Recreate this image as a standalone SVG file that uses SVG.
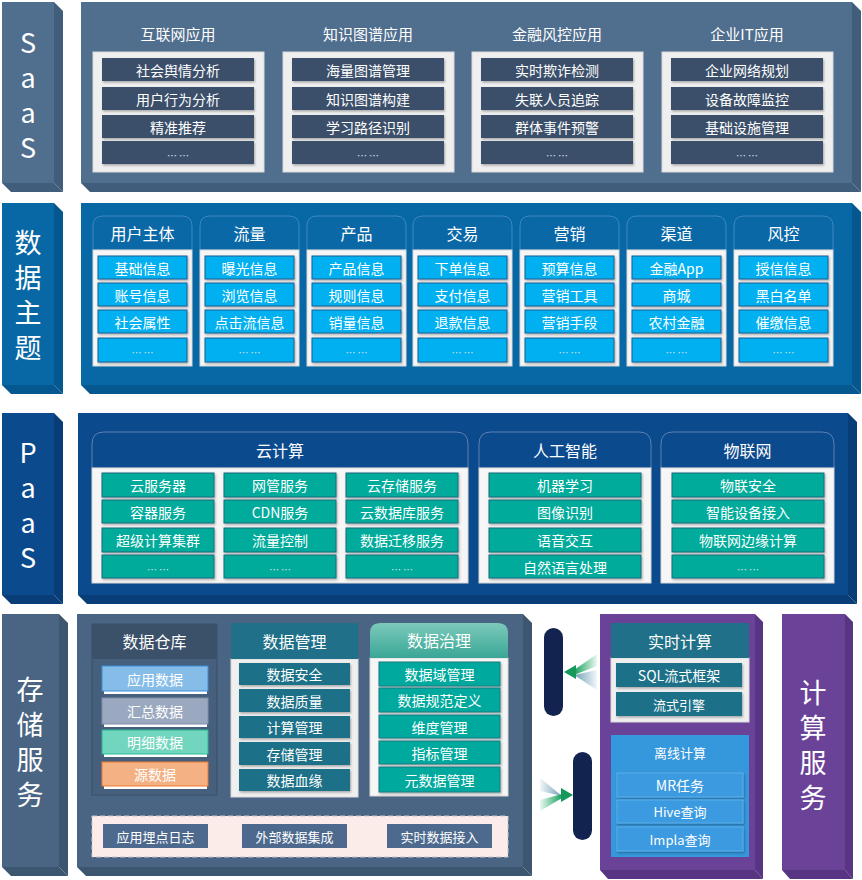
<svg xmlns="http://www.w3.org/2000/svg" width="862" height="880" viewBox="0 0 862 880">
<style>
text{font-family:"Noto Sans CJK SC","Noto Sans",sans-serif;fill:#fff;text-anchor:middle;dominant-baseline:central}
.big{font-size:27px}
.vt{font-size:27px;writing-mode:vertical-rl;text-orientation:upright;letter-spacing:8px}
.h{font-size:15px}
.h16{font-size:16px}
.t{font-size:14px}
.s{font-size:13px}
.e{font-size:10px;fill:#dde3ea}
.saasF{fill:#506e8e}.saasS{fill:#415d7c}
.dataF{fill:#0868a6}.dataS{fill:#055790}
.paasF{fill:#0c4a8e}.paasS{fill:#083d78}
.stoF{fill:#4a6583}.stoS{fill:#3d5670}
.cmpF{fill:#6a4398}.cmpS{fill:#583583}
.gbox{fill:#efefef;stroke:#dadada;stroke-width:1}
.wbox{fill:#f6f6f6;stroke:#d6d6d6;stroke-width:1}
.saasI{fill:#3b506b}
.dI{fill:#00b0f0;stroke:#1b5e94;stroke-width:1}
.pI{fill:#00ab9b;stroke:#1d6b7b;stroke-width:1}
.tI{fill:#1f7088}
.gI{fill:#00a99d;stroke:#1d7a80;stroke-width:1}
.bI{fill:#4d6a8e}
.oI{fill:#3a9ae0;stroke:#5fb0ea;stroke-width:1}
.dh{fill:#0a68a7;stroke:#3e88bf;stroke-width:1}
.ph{fill:#0c4a8e;stroke:#5d80b0;stroke-width:1}
.pill{fill:#13234f}
</style>
<defs>
<filter id="sh" x="-10%" y="-20%" width="120%" height="150%">
<feDropShadow dx="1" dy="1.5" stdDeviation="1" flood-color="#000" flood-opacity="0.3"/>
</filter>
<linearGradient id="gov" x1="0" y1="0" x2="0" y2="1">
<stop offset="0" stop-color="#7ccabb"/><stop offset="1" stop-color="#3aa696"/>
</linearGradient>
<linearGradient id="gLeft" x1="0" y1="0" x2="1" y2="0">
<stop offset="0" stop-color="#14a05c"/><stop offset="1" stop-color="#14a05c" stop-opacity="0.08"/>
</linearGradient>
<linearGradient id="bLeft" x1="0" y1="0" x2="1" y2="0">
<stop offset="0" stop-color="#6f9fb6"/><stop offset="1" stop-color="#6f9fb6" stop-opacity="0.08"/>
</linearGradient>
<linearGradient id="gRight" x1="1" y1="0" x2="0" y2="0">
<stop offset="0" stop-color="#14a05c"/><stop offset="1" stop-color="#14a05c" stop-opacity="0.08"/>
</linearGradient>
<linearGradient id="bRight" x1="1" y1="0" x2="0" y2="0">
<stop offset="0" stop-color="#6f9fb6"/><stop offset="1" stop-color="#6f9fb6" stop-opacity="0.08"/>
</linearGradient>
</defs>

<!-- ================= SaaS ================= -->
<g id="saas-label">
<polygon class="saasS" points="54,2 63,11 63,192 54,183"/>
<polygon class="saasS" points="2,183 54,183 63,192 11,192"/>
<rect class="saasF" x="2" y="2" width="52" height="181"/>
<text class="vt" x="28" y="99">SaaS</text>
</g>
<g id="saas-panel">
<polygon class="saasS" points="852,2 861,11 861,192 852,183"/>
<polygon class="saasS" points="81,183 852,183 861,192 90,192"/>
<rect class="saasF" x="81" y="2" width="771" height="181"/>
</g>
<g id="saas-internet">
<text class="h" x="178" y="33">互联网应用</text>
<rect class="gbox" x="93" y="52" width="171" height="120"/>
<g filter="url(#sh)">
<rect class="saasI" x="102" y="58" width="152" height="23"/>
<rect class="saasI" x="102" y="87" width="152" height="23"/>
<rect class="saasI" x="102" y="115" width="152" height="23"/>
<rect class="saasI" x="102" y="141" width="152" height="23"/>
</g>
<text class="t" x="178" y="69.5">社会舆情分析</text>
<text class="t" x="178" y="98.5">用户行为分析</text>
<text class="t" x="178" y="126.5">精准推荐</text>
<text class="e" x="178" y="155">… …</text>
</g>
<g id="saas-kg">
<text class="h" x="368" y="33">知识图谱应用</text>
<rect class="gbox" x="283" y="52" width="171" height="120"/>
<g filter="url(#sh)">
<rect class="saasI" x="292" y="58" width="152" height="23"/>
<rect class="saasI" x="292" y="87" width="152" height="23"/>
<rect class="saasI" x="292" y="115" width="152" height="23"/>
<rect class="saasI" x="292" y="141" width="152" height="23"/>
</g>
<text class="t" x="368" y="69.5">海量图谱管理</text>
<text class="t" x="368" y="98.5">知识图谱构建</text>
<text class="t" x="368" y="126.5">学习路径识别</text>
<text class="e" x="368" y="155">… …</text>
</g>
<g id="saas-fin">
<text class="h" x="557" y="33">金融风控应用</text>
<rect class="gbox" x="472" y="52" width="171" height="120"/>
<g filter="url(#sh)">
<rect class="saasI" x="481" y="58" width="152" height="23"/>
<rect class="saasI" x="481" y="87" width="152" height="23"/>
<rect class="saasI" x="481" y="115" width="152" height="23"/>
<rect class="saasI" x="481" y="141" width="152" height="23"/>
</g>
<text class="t" x="557" y="69.5">实时欺诈检测</text>
<text class="t" x="557" y="98.5">失联人员追踪</text>
<text class="t" x="557" y="126.5">群体事件预警</text>
<text class="e" x="557" y="155">… …</text>
</g>
<g id="saas-it">
<text class="h" x="747" y="33">企业IT应用</text>
<rect class="gbox" x="662" y="52" width="171" height="120"/>
<g filter="url(#sh)">
<rect class="saasI" x="671" y="58" width="152" height="23"/>
<rect class="saasI" x="671" y="87" width="152" height="23"/>
<rect class="saasI" x="671" y="115" width="152" height="23"/>
<rect class="saasI" x="671" y="141" width="152" height="23"/>
</g>
<text class="t" x="747" y="69.5">企业网络规划</text>
<text class="t" x="747" y="98.5">设备故障监控</text>
<text class="t" x="747" y="126.5">基础设施管理</text>
<text class="e" x="747" y="155">… …</text>
</g>

<!-- ================= 数据主题 ================= -->
<g id="data-label">
<polygon class="dataS" points="54,203 63,212 63,394 54,385"/>
<polygon class="dataS" points="2,385 54,385 63,394 11,394"/>
<rect class="dataF" x="2" y="203" width="52" height="182"/>
<text class="vt" x="28" y="299.5">数据主题</text>
</g>
<g id="data-panel">
<polygon class="dataS" points="852,203 861,212 861,394 852,385"/>
<polygon class="dataS" points="81,385 852,385 861,394 90,394"/>
<rect class="dataF" x="81" y="203" width="771" height="182"/>
</g>
<g id="data-user">
<path class="dh" d="M93,250 V226 Q93,216 103,216 H182 Q192,216 192,226 V250 Z"/>
<rect class="wbox" x="93" y="250" width="99" height="116"/>
<text class="h16" x="142.5" y="233">用户主体</text>
<g filter="url(#sh)">
<rect class="dI" x="98" y="256" width="89" height="23"/><rect class="dI" x="98" y="283" width="89" height="23"/>
<rect class="dI" x="98" y="310" width="89" height="23"/><rect class="dI" x="98" y="338" width="89" height="24"/>
</g>
<text class="t" x="142.5" y="267.5">基础信息</text><text class="t" x="142.5" y="294.5">账号信息</text>
<text class="t" x="142.5" y="321.5">社会属性</text><text class="e" x="142.5" y="352">… …</text>
</g>
<g id="data-traffic">
<path class="dh" d="M200,250 V226 Q200,216 210,216 H289 Q299,216 299,226 V250 Z"/>
<rect class="wbox" x="200" y="250" width="99" height="116"/>
<text class="h16" x="249.5" y="233">流量</text>
<g filter="url(#sh)">
<rect class="dI" x="205" y="256" width="89" height="23"/><rect class="dI" x="205" y="283" width="89" height="23"/>
<rect class="dI" x="205" y="310" width="89" height="23"/><rect class="dI" x="205" y="338" width="89" height="24"/>
</g>
<text class="t" x="249.5" y="267.5">曝光信息</text><text class="t" x="249.5" y="294.5">浏览信息</text>
<text class="t" x="249.5" y="321.5">点击流信息</text><text class="e" x="249.5" y="352">… …</text>
</g>
<g id="data-product">
<path class="dh" d="M307,250 V226 Q307,216 317,216 H396 Q406,216 406,226 V250 Z"/>
<rect class="wbox" x="307" y="250" width="99" height="116"/>
<text class="h16" x="356.5" y="233">产品</text>
<g filter="url(#sh)">
<rect class="dI" x="312" y="256" width="89" height="23"/><rect class="dI" x="312" y="283" width="89" height="23"/>
<rect class="dI" x="312" y="310" width="89" height="23"/><rect class="dI" x="312" y="338" width="89" height="24"/>
</g>
<text class="t" x="356.5" y="267.5">产品信息</text><text class="t" x="356.5" y="294.5">规则信息</text>
<text class="t" x="356.5" y="321.5">销量信息</text><text class="e" x="356.5" y="352">… …</text>
</g>
<g id="data-trade">
<path class="dh" d="M413,250 V226 Q413,216 423,216 H502 Q512,216 512,226 V250 Z"/>
<rect class="wbox" x="413" y="250" width="99" height="116"/>
<text class="h16" x="462.5" y="233">交易</text>
<g filter="url(#sh)">
<rect class="dI" x="418" y="256" width="89" height="23"/><rect class="dI" x="418" y="283" width="89" height="23"/>
<rect class="dI" x="418" y="310" width="89" height="23"/><rect class="dI" x="418" y="338" width="89" height="24"/>
</g>
<text class="t" x="462.5" y="267.5">下单信息</text><text class="t" x="462.5" y="294.5">支付信息</text>
<text class="t" x="462.5" y="321.5">退款信息</text><text class="e" x="462.5" y="352">… …</text>
</g>
<g id="data-marketing">
<path class="dh" d="M520,250 V226 Q520,216 530,216 H609 Q619,216 619,226 V250 Z"/>
<rect class="wbox" x="520" y="250" width="99" height="116"/>
<text class="h16" x="569.5" y="233">营销</text>
<g filter="url(#sh)">
<rect class="dI" x="525" y="256" width="89" height="23"/><rect class="dI" x="525" y="283" width="89" height="23"/>
<rect class="dI" x="525" y="310" width="89" height="23"/><rect class="dI" x="525" y="338" width="89" height="24"/>
</g>
<text class="t" x="569.5" y="267.5">预算信息</text><text class="t" x="569.5" y="294.5">营销工具</text>
<text class="t" x="569.5" y="321.5">营销手段</text><text class="e" x="569.5" y="352">… …</text>
</g>
<g id="data-channel">
<path class="dh" d="M627,250 V226 Q627,216 637,216 H716 Q726,216 726,226 V250 Z"/>
<rect class="wbox" x="627" y="250" width="99" height="116"/>
<text class="h16" x="676.5" y="233">渠道</text>
<g filter="url(#sh)">
<rect class="dI" x="632" y="256" width="89" height="23"/><rect class="dI" x="632" y="283" width="89" height="23"/>
<rect class="dI" x="632" y="310" width="89" height="23"/><rect class="dI" x="632" y="338" width="89" height="24"/>
</g>
<text class="t" x="676.5" y="267.5">金融App</text><text class="t" x="676.5" y="294.5">商城</text>
<text class="t" x="676.5" y="321.5">农村金融</text><text class="e" x="676.5" y="352">… …</text>
</g>
<g id="data-risk">
<path class="dh" d="M734,250 V226 Q734,216 744,216 H823 Q833,216 833,226 V250 Z"/>
<rect class="wbox" x="734" y="250" width="99" height="116"/>
<text class="h16" x="783.5" y="233">风控</text>
<g filter="url(#sh)">
<rect class="dI" x="739" y="256" width="89" height="23"/><rect class="dI" x="739" y="283" width="89" height="23"/>
<rect class="dI" x="739" y="310" width="89" height="23"/><rect class="dI" x="739" y="338" width="89" height="24"/>
</g>
<text class="t" x="783.5" y="267.5">授信信息</text><text class="t" x="783.5" y="294.5">黑白名单</text>
<text class="t" x="783.5" y="321.5">催缴信息</text><text class="e" x="783.5" y="352">… …</text>
</g>

<!-- ================= PaaS ================= -->
<g id="paas-label">
<polygon class="paasS" points="54,413 63,422 63,604 54,595"/>
<polygon class="paasS" points="2,595 54,595 63,604 11,604"/>
<rect class="paasF" x="2" y="413" width="52" height="182"/>
<text class="vt" x="28" y="509">PaaS</text>
</g>
<g id="paas-panel">
<polygon class="paasS" points="848,413 857,422 857,604 848,595"/>
<polygon class="paasS" points="78,595 848,595 857,604 87,604"/>
<rect class="paasF" x="78" y="413" width="770" height="182"/>
</g>
<g id="paas-cloud">
<path class="ph" d="M92,468 V444 Q92,432 104,432 H456 Q468,432 468,444 V468 Z"/>
<rect class="wbox" x="92" y="468" width="376" height="115"/>
<text class="h16" x="280" y="450">云计算</text>
<g filter="url(#sh)">
<rect class="pI" x="102" y="473" width="112" height="24"/><rect class="pI" x="102" y="500" width="112" height="23"/>
<rect class="pI" x="102" y="528" width="112" height="24"/><rect class="pI" x="102" y="555" width="112" height="23"/>
<rect class="pI" x="224" y="473" width="112" height="24"/><rect class="pI" x="224" y="500" width="112" height="23"/>
<rect class="pI" x="224" y="528" width="112" height="24"/><rect class="pI" x="224" y="555" width="112" height="23"/>
<rect class="pI" x="346" y="473" width="112" height="24"/><rect class="pI" x="346" y="500" width="112" height="23"/>
<rect class="pI" x="346" y="528" width="112" height="24"/><rect class="pI" x="346" y="555" width="112" height="23"/>
</g>
<text class="t" x="158" y="485">云服务器</text><text class="t" x="158" y="511.5">容器服务</text>
<text class="t" x="158" y="540">超级计算集群</text><text class="e" x="158" y="569">… …</text>
<text class="t" x="280" y="485">网管服务</text><text class="t" x="280" y="511.5">CDN服务</text>
<text class="t" x="280" y="540">流量控制</text><text class="e" x="280" y="569">… …</text>
<text class="t" x="402" y="485">云存储服务</text><text class="t" x="402" y="511.5">云数据库服务</text>
<text class="t" x="402" y="540">数据迁移服务</text><text class="e" x="402" y="569">… …</text>
</g>
<g id="paas-ai">
<path class="ph" d="M479,468 V444 Q479,432 491,432 H639 Q651,432 651,444 V468 Z"/>
<rect class="wbox" x="479" y="468" width="172" height="115"/>
<text class="h16" x="565" y="450">人工智能</text>
<g filter="url(#sh)">
<rect class="pI" x="489" y="473" width="152" height="24"/><rect class="pI" x="489" y="500" width="152" height="23"/>
<rect class="pI" x="489" y="528" width="152" height="24"/><rect class="pI" x="489" y="555" width="152" height="23"/>
</g>
<text class="t" x="565" y="485">机器学习</text><text class="t" x="565" y="511.5">图像识别</text>
<text class="t" x="565" y="540">语音交互</text><text class="t" x="565" y="566.5">自然语言处理</text>
</g>
<g id="paas-iot">
<path class="ph" d="M661,468 V444 Q661,432 673,432 H822 Q834,432 834,444 V468 Z"/>
<rect class="wbox" x="661" y="468" width="173" height="115"/>
<text class="h16" x="747.5" y="450">物联网</text>
<g filter="url(#sh)">
<rect class="pI" x="672" y="473" width="152" height="24"/><rect class="pI" x="672" y="500" width="152" height="23"/>
<rect class="pI" x="672" y="528" width="152" height="24"/><rect class="pI" x="672" y="555" width="152" height="23"/>
</g>
<text class="t" x="748" y="485">物联安全</text><text class="t" x="748" y="511.5">智能设备接入</text>
<text class="t" x="748" y="540">物联网边缘计算</text><text class="e" x="748" y="569">… …</text>
</g>

<!-- ================= 存储服务 ================= -->
<g id="storage-label">
<polygon class="stoS" points="59,614 68,623 68,876 59,867"/>
<polygon class="stoS" points="2,867 59,867 68,876 11,876"/>
<rect class="stoF" x="2" y="614" width="57" height="253"/>
<text class="vt" x="30" y="746.5">存储服务</text>
</g>
<g id="storage-panel">
<polygon class="stoS" points="523,614 532,623 532,876 523,867"/>
<polygon class="stoS" points="77,867 523,867 532,876 86,876"/>
<rect class="stoF" x="77" y="614" width="446" height="253"/>
</g>
<g id="dw">
<rect x="92" y="624" width="125" height="171" fill="#465f7c" stroke="#3b5069"/>
<rect x="92" y="624" width="125" height="35" fill="#3b5069"/>
<text class="h16" x="154.5" y="641">数据仓库</text>
<rect x="104" y="669" width="103" height="25" fill="#fff"/>
<rect x="102" y="666" width="106" height="25" fill="#85bde8" stroke="#3a8fd8"/>
<rect x="104" y="702" width="103" height="25" fill="#fff"/>
<rect x="102" y="698" width="106" height="26" fill="#9aa9bf" stroke="#7d8fa8"/>
<rect x="104" y="733" width="103" height="24" fill="#fff"/>
<rect x="102" y="730" width="106" height="24" fill="#72d6bf" stroke="#25b894"/>
<rect x="104" y="765" width="103" height="24" fill="#fff"/>
<rect x="102" y="762" width="106" height="24" fill="#f4b183" stroke="#ee7b30"/>
<text class="t" x="155" y="678.5">应用数据</text>
<text class="t" x="155" y="711">汇总数据</text>
<text class="t" x="155" y="742">明细数据</text>
<text class="t" x="155" y="774">源数据</text>
</g>
<g id="dm">
<rect class="gbox" x="231" y="659" width="127" height="138"/>
<rect class="tI" x="231" y="623" width="127" height="36"/>
<text class="h16" x="294.5" y="641">数据管理</text>
<g filter="url(#sh)">
<rect class="tI" x="239" y="663" width="111" height="22"/><rect class="tI" x="239" y="689" width="111" height="23"/>
<rect class="tI" x="239" y="716" width="111" height="22"/><rect class="tI" x="239" y="742" width="111" height="23"/>
<rect class="tI" x="239" y="769" width="111" height="22"/>
</g>
<text class="t" x="294.5" y="674">数据安全</text><text class="t" x="294.5" y="700.5">数据质量</text>
<text class="t" x="294.5" y="727">计算管理</text><text class="t" x="294.5" y="753.5">存储管理</text>
<text class="t" x="294.5" y="780">数据血缘</text>
</g>
<g id="dg">
<rect class="wbox" x="370" y="658" width="138" height="138"/>
<path d="M370,658 V633 Q370,623 380,623 H498 Q508,623 508,633 V658 Z" fill="url(#gov)"/>
<text class="h16" x="439" y="640">数据治理</text>
<g filter="url(#sh)">
<rect class="gI" x="379" y="662" width="121" height="24"/><rect class="gI" x="379" y="688" width="121" height="24"/>
<rect class="gI" x="379" y="715" width="121" height="23"/><rect class="gI" x="379" y="741" width="121" height="23"/>
<rect class="gI" x="379" y="767" width="121" height="25"/>
</g>
<text class="t" x="439.5" y="674">数据域管理</text><text class="t" x="439.5" y="700">数据规范定义</text>
<text class="t" x="439.5" y="726.5">维度管理</text><text class="t" x="439.5" y="752.5">指标管理</text>
<text class="t" x="439.5" y="779.5">元数据管理</text>
</g>
<g id="sources">
<rect x="92" y="816" width="416" height="41" fill="#fbecea" stroke="#c9c9c9" stroke-dasharray="5,3"/>
<rect class="bI" x="103" y="824" width="105" height="24"/>
<rect class="bI" x="242" y="824" width="105" height="24"/>
<rect class="bI" x="387" y="824" width="105" height="24"/>
<text class="s" x="155.5" y="836">应用埋点日志</text>
<text class="s" x="294.5" y="836">外部数据集成</text>
<text class="s" x="439.5" y="836">实时数据接入</text>
</g>

<!-- ================= connectors ================= -->
<g id="connectors">
<rect class="pill" x="544" y="628" width="19" height="88" rx="9.5"/>
<rect class="pill" x="573" y="752" width="19" height="88" rx="9.5"/>
<path d="M597,670 L597,690 L574,675 Z" fill="url(#bLeft)"/>
<path d="M597,654 L597,666 L574,675 L574,670 Z" fill="url(#gLeft)"/>
<path d="M564,672 L576,665 L576,679 Z" fill="#16985a"/>
<path d="M540,778 L540,791 L562,796 Z" fill="url(#bRight)"/>
<path d="M540,800 L540,811 L562,798 L562,794 Z" fill="url(#gRight)"/>
<path d="M573,795 L561,788 L561,802 Z" fill="#16985a"/>
</g>

<!-- ================= 计算服务 ================= -->
<g id="compute-panel">
<polygon class="cmpS" points="755,614 763,622 763,879 755,870"/>
<polygon class="cmpS" points="600,870 755,870 763,879 608,879"/>
<rect class="cmpF" x="600" y="614" width="155" height="256"/>
</g>
<g id="realtime">
<rect class="gbox" x="611" y="658" width="138" height="64"/>
<rect class="tI" x="611" y="623" width="138" height="35"/>
<text class="h16" x="680" y="640.5">实时计算</text>
<g filter="url(#sh)">
<rect class="tI" x="616" y="663" width="126" height="24"/>
<rect class="tI" x="616" y="692" width="126" height="24"/>
</g>
<text class="t" x="679" y="675">SQL流式框架</text>
<text class="s" x="679" y="704">流式引擎</text>
</g>
<g id="offline">
<rect x="611" y="735" width="138" height="122" fill="#3597dc"/>
<text class="s" x="680" y="752">离线计算</text>
<g filter="url(#sh)">
<rect class="oI" x="617" y="773" width="126" height="24"/>
<rect class="oI" x="617" y="800" width="126" height="23"/>
<rect class="oI" x="617" y="827" width="126" height="24"/>
</g>
<text class="t" x="680" y="785">MR任务</text>
<text class="s" x="680" y="811.5">Hive查询</text>
<text class="s" x="680" y="839">Impla查询</text>
</g>
<g id="compute-label">
<polygon class="cmpS" points="845,614 853,622 853,879 845,870"/>
<polygon class="cmpS" points="782,870 845,870 853,879 790,879"/>
<rect class="cmpF" x="782" y="614" width="63" height="256"/>
<text class="vt" x="813" y="749.5">计算服务</text>
</g>
</svg>
